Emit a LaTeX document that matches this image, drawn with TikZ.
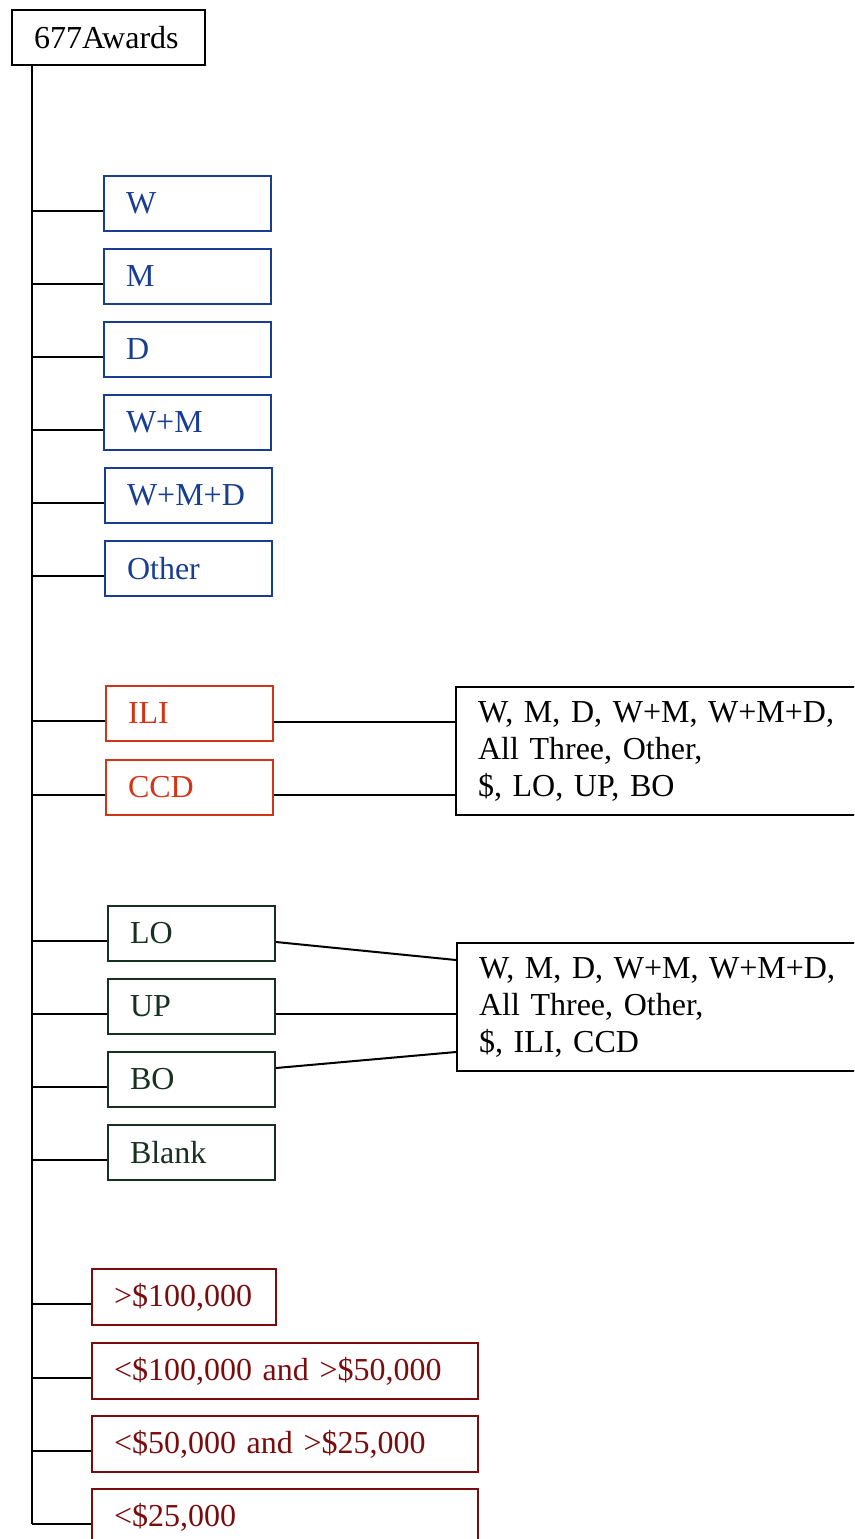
\documentclass[tikz,border=0pt]{standalone}
\usepackage{fontspec}
\setmainfont{Liberation Serif}[WordSpace=0.8]
\usetikzlibrary{calc}
\definecolor{cblue}{RGB}{24,62,145}
\definecolor{cred}{RGB}{212,52,22}
\definecolor{cgreen}{RGB}{22,48,34}
\definecolor{cmaroon}{RGB}{122,12,14}
\tikzset{
  bx/.style={draw, line width=1.5pt, anchor=north west, inner xsep=16.5pt, inner ysep=0pt,
    minimum height=41.25pt, align=left, text width=92.25pt,
    font=\fontsize{24}{27.75}\selectfont},
  bluebx/.style={bx, draw=cblue, text=cblue},
  redbx/.style={bx, draw=cred, text=cred},
  greenbx/.style={bx, draw=cgreen, text=cgreen},
  moneybx/.style={bx, draw=cmaroon, text=cmaroon, minimum height=42pt},
  listbx/.style={bx, minimum height=96pt, text width=282pt},
  conn/.style={line width=1.5pt, black}
}
\begin{document}
\begin{tikzpicture}[x=0.75pt,y=-0.75pt]
\useasboundingbox (0,0) rectangle (854,1539);
\clip (0,0) rectangle (854,1539);
% root
\node[bx, text width=111.75pt] (root) at (11,9) {677Awards};
% blue group
\node[bluebx] (w)   at (103,175) {W};
\node[bluebx] (m)   at (103,248) {M};
\node[bluebx] (d)   at (103,321) {D};
\node[bluebx] (wm)  at (103,394) {W+M};
\node[bluebx] (wmd) at (104,467) {W+M+D};
\node[bluebx] (oth) at (104,540) {Other};
% red group
\node[redbx] (ili) at (105,685) {ILI};
\node[redbx] (ccd) at (105,759) {CCD};
% green group
\node[greenbx] (lo)    at (107,905) {LO};
\node[greenbx] (up)    at (107,978) {UP};
\node[greenbx] (bo)    at (107,1051) {BO};
\node[greenbx] (blank) at (107,1124) {Blank};
% money group
\node[moneybx, text width=105pt] (m1) at (91,1268) {>\$100,000};
\node[moneybx, text width=256.5pt] (m2) at (91,1342) {<\$100,000 and >\$50,000};
\node[moneybx, text width=256.5pt] (m3) at (91,1415) {<\$50,000 and >\$25,000};
\node[moneybx, text width=256.5pt] (m4) at (91,1488) {<\$25,000};
% list boxes
\node[listbx] (r1) at (455,686) {W, M, D, W+M, W+M+D,\\All Three, Other,\\\$, LO, UP, BO};
\node[listbx] (r2) at (456,942) {W, M, D, W+M, W+M+D,\\All Three, Other,\\\$, ILI, CCD};
% trunk
\coordinate (T) at ($(root.south west)+(21,0)$);
\foreach \n in {w,m,d,wm,wmd,oth,ili,ccd,lo,up,bo,blank,m1,m2,m3,m4}{
  \draw[conn] ($(\n.north west)+(0,36)$) coordinate (c\n) -- (c\n -| T);
}
\draw[conn] (T) -- (T |- cm4);
% right connectors
\draw[conn] ($(ili.north east)+(0,37)$) coordinate (a1) -- (a1 -| r1.west);
\draw[conn] ($(ccd.north east)+(0,36)$) coordinate (a2) -- (a2 -| r1.west);
\draw[conn] ($(lo.north east)+(0,37)$) -- ($(r2.north west)+(0,18)$);
\draw[conn] ($(up.north east)+(0,36)$) coordinate (a3) -- (a3 -| r2.west);
\draw[conn] ($(bo.north east)+(0,17)$) -- ($(r2.north west)+(0,110)$);
\end{tikzpicture}
\end{document}
